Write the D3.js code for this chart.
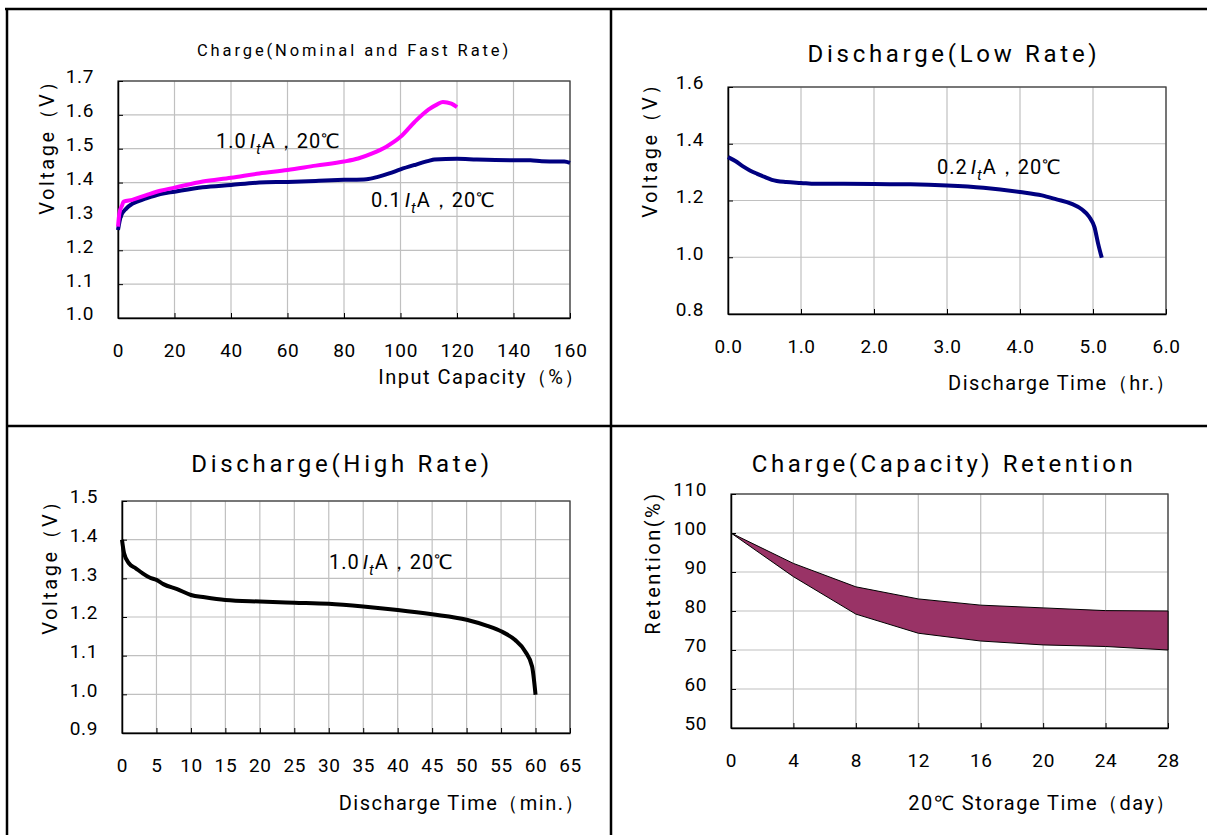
<!DOCTYPE html>
<html>
<head>
<meta charset="utf-8">
<script src="https://cdn.jsdelivr.net/npm/d3@7"></script>
<style>
  body { margin: 0; background: #fff; }
  svg text { font-family: Roboto, "Liberation Sans", sans-serif; fill: #000; }
</style>
</head>
<body>
<svg id="chart" width="1207" height="835"></svg>
<script>
// charge curves, x = input capacity (%)
const chargeFastX = [0, 0.5, 1.5, 2, 5, 10, 15, 20, 30, 40, 50, 60, 70, 80, 85, 90, 95, 100, 105, 110, 113, 115, 118, 120];
const chargeFastV = [1.27, 1.31, 1.334, 1.344, 1.349, 1.363, 1.376, 1.385, 1.403, 1.414, 1.427, 1.437, 1.45, 1.462, 1.471, 1.486, 1.506, 1.535, 1.579, 1.616, 1.631, 1.638, 1.633, 1.623];
const chargeNomX = [0, 1, 3, 5, 10, 15, 20, 30, 40, 50, 60, 70, 80, 88, 92, 96, 100, 105, 110, 112, 120, 127, 140, 146, 150, 158, 160];
const chargeNomV = [1.26, 1.30, 1.324, 1.337, 1.353, 1.366, 1.373, 1.386, 1.393, 1.40, 1.402, 1.405, 1.408, 1.41, 1.417, 1.427, 1.439, 1.452, 1.464, 1.468, 1.47, 1.468, 1.466, 1.466, 1.463, 1.462, 1.458];

// low rate discharge, x = hours
const lowRateT = [0, 0.1, 0.2, 0.3, 0.4, 0.5, 0.6, 0.8, 1.0, 1.2, 1.5, 2.0, 2.5, 3.0, 3.5, 4.0, 4.3, 4.5, 4.7, 4.85, 4.95, 5.02, 5.07, 5.12];
const lowRateV = [1.353, 1.339, 1.321, 1.306, 1.294, 1.283, 1.273, 1.265, 1.262, 1.259, 1.259, 1.258, 1.257, 1.253, 1.245, 1.23, 1.218, 1.204, 1.189, 1.168, 1.142, 1.106, 1.048, 0.998];

// high rate discharge, x = minutes
const highRateT = [0, 0.3, 1, 2, 3, 4, 5, 6, 8, 10, 12, 15, 20, 25, 30, 35, 40, 45, 50, 53, 55, 57, 58.5, 59.5, 60];
const highRateV = [1.40, 1.365, 1.339, 1.326, 1.313, 1.302, 1.296, 1.285, 1.272, 1.257, 1.251, 1.244, 1.24, 1.237, 1.234, 1.227, 1.218, 1.207, 1.193, 1.177, 1.163, 1.141, 1.111, 1.072, 0.999];

// retention band, x = storage days
const storageDays = [0, 4, 8, 12, 16, 20, 24, 28];
const retentionHigh = [100, 92.2, 86.2, 83.1, 81.5, 80.8, 80.1, 80];
const retentionLow = [100, 88.8, 79.2, 74.3, 72.3, 71.3, 70.9, 70];

const xTicks1 = d3.range(0, 161, 20), yTicks1 = d3.range(10, 18).map(d => d / 10);
const xTicks2 = d3.range(0, 7), yTicks2 = [0.8, 1.0, 1.2, 1.4, 1.6];
const xTicks3 = d3.range(0, 66, 5), yTicks3 = d3.range(9, 16).map(d => d / 10);
const xTicks4 = d3.range(0, 29, 4), yTicks4 = d3.range(50, 111, 10);

const svg = d3.select("#chart");

// panel frame lines
const frame = svg.append("g").attr("stroke", "#000").attr("stroke-width", 2.5);
frame.append("line").attr("x1", 5).attr("x2", 1207).attr("y1", 9).attr("y2", 9);
frame.append("line").attr("x1", 7).attr("x2", 7).attr("y1", 8).attr("y2", 835);
frame.append("line").attr("x1", 611).attr("x2", 611).attr("y1", 8).attr("y2", 835);
frame.append("line").attr("x1", 7).attr("x2", 1207).attr("y1", 426).attr("y2", 426);

function panel(o) {
  const x = d3.scaleLinear().domain(o.xDomain).range([o.left, o.right]);
  const y = d3.scaleLinear().domain(o.yDomain).range([o.bottom, o.top]);
  const g = svg.append("g");

  // grid
  g.append("g").selectAll("line").data(o.xTicks.slice(1)).join("line")
    .attr("x1", d => x(d)).attr("x2", d => x(d)).attr("y1", o.top).attr("y2", o.bottom)
    .attr("stroke", "#c0c0c0").attr("stroke-width", 1.2);
  g.append("g").selectAll("line").data(o.yTicks.slice(1)).join("line")
    .attr("x1", o.left).attr("x2", o.right).attr("y1", d => y(d)).attr("y2", d => y(d))
    .attr("stroke", "#c0c0c0").attr("stroke-width", 1.2);

  // frame: top/right grey, axes black
  g.append("rect").attr("x", o.left).attr("y", o.top)
    .attr("width", o.right - o.left).attr("height", o.bottom - o.top)
    .attr("fill", "none").attr("stroke", "#404040").attr("stroke-width", 1.3);

  const xAxis = g.append("g").attr("transform", `translate(0,${o.bottom})`)
    .call(d3.axisBottom(x).tickValues(o.xTicks).tickFormat(o.xFormat).tickSizeInner(-5).tickSizeOuter(0).tickPadding(26));
  const yAxis = g.append("g").attr("transform", `translate(${o.left},0)`)
    .call(d3.axisLeft(y).tickValues(o.yTicks).tickFormat(o.yFormat).tickSizeInner(-5).tickSizeOuter(0).tickPadding(24));
  [xAxis, yAxis].forEach(a => {
    a.select(".domain").attr("stroke", "#000").attr("stroke-width", 1.5);
    a.selectAll(".tick line").attr("stroke", "#000");
    a.selectAll(".tick text").attr("font-size", 19).attr("letter-spacing", 0.6);
  });
  yAxis.selectAll(".tick text").attr("dy", "0.1em");

  g.append("text").attr("x", o.titleX).attr("y", o.titleY).attr("text-anchor", "middle")
    .attr("font-size", o.titleSize).attr("letter-spacing", o.titleSpacing).text(o.title);
  g.append("text").attr("x", o.xTitleEnd).attr("y", o.xTitleY).attr("text-anchor", "end")
    .attr("font-size", 20).attr("letter-spacing", 1.5).text(o.xTitle);
  g.append("text").attr("transform", `translate(${o.yTitleX},${o.yTitleY}) rotate(-90)`)
    .attr("text-anchor", "middle").attr("font-size", 20).attr("letter-spacing", 2.5).text(o.yTitle);

  return { g, x, y };
}

function note(g, px, py, lead) {
  const t = g.append("text").attr("x", px).attr("y", py).attr("font-size", 20).attr("letter-spacing", 1);
  t.append("tspan").text(lead);
  t.append("tspan").attr("font-style", "italic").attr("dx", 3).text("I");
  t.append("tspan").attr("font-style", "italic").attr("font-size", 15).attr("dy", 6).text("t");
  t.append("tspan").attr("dy", -6).text("A，20℃");
}

const f1 = d3.format(".1f");

// top left: charge
const p1 = panel({
  left: 118, right: 570, top: 81, bottom: 318,
  xDomain: [0, 160], yDomain: [1.0, 1.7], xTicks: xTicks1, yTicks: yTicks1,
  xFormat: d3.format("d"), yFormat: f1,
  title: "Charge(Nominal and Fast Rate)", titleX: 354, titleY: 56, titleSize: 16.5, titleSpacing: 2.9,
  xTitle: "Input Capacity（%）", xTitleEnd: 586, xTitleY: 384,
  yTitle: "Voltage（V）", yTitleX: 54, yTitleY: 142
});
const line1 = d3.line().x(d => p1.x(d[0])).y(d => p1.y(d[1])).curve(d3.curveMonotoneX);
p1.g.append("path").datum(d3.zip(chargeNomX, chargeNomV)).attr("d", line1)
  .attr("fill", "none").attr("stroke", "#000080").attr("stroke-width", 4);
p1.g.append("path").datum(d3.zip(chargeFastX, chargeFastV)).attr("d", line1)
  .attr("fill", "none").attr("stroke", "#ff00ff").attr("stroke-width", 4);
note(p1.g, 216, 148, "1.0");
note(p1.g, 371, 207, "0.1");

// top right: low rate discharge
const p2 = panel({
  left: 728, right: 1166, top: 87, bottom: 314,
  xDomain: [0, 6], yDomain: [0.8, 1.6], xTicks: xTicks2, yTicks: yTicks2,
  xFormat: f1, yFormat: f1,
  title: "Discharge(Low Rate)", titleX: 954, titleY: 62, titleSize: 24, titleSpacing: 3.7,
  xTitle: "Discharge Time（hr.）", xTitleEnd: 1177, xTitleY: 390,
  yTitle: "Voltage（V）", yTitleX: 657, yTitleY: 145
});
const line2 = d3.line().x(d => p2.x(d[0])).y(d => p2.y(d[1])).curve(d3.curveMonotoneX);
p2.g.append("path").datum(d3.zip(lowRateT, lowRateV)).attr("d", line2)
  .attr("fill", "none").attr("stroke", "#000080").attr("stroke-width", 4);
note(p2.g, 937, 174, "0.2");

// bottom left: high rate discharge
const p3 = panel({
  left: 122, right: 570, top: 501, bottom: 733,
  xDomain: [0, 65], yDomain: [0.9, 1.5], xTicks: xTicks3, yTicks: yTicks3,
  xFormat: d3.format("d"), yFormat: f1,
  title: "Discharge(High Rate)", titleX: 342, titleY: 472, titleSize: 24, titleSpacing: 3.7,
  xTitle: "Discharge Time（min.）", xTitleEnd: 586, xTitleY: 810,
  yTitle: "Voltage（V）", yTitleX: 57, yTitleY: 562
});
const line3 = d3.line().x(d => p3.x(d[0])).y(d => p3.y(d[1])).curve(d3.curveMonotoneX);
p3.g.append("path").datum(d3.zip(highRateT, highRateV)).attr("d", line3)
  .attr("fill", "none").attr("stroke", "#000").attr("stroke-width", 4);
note(p3.g, 329, 569, "1.0");

// bottom right: retention band
const p4 = panel({
  left: 731, right: 1168, top: 494, bottom: 728,
  xDomain: [0, 28], yDomain: [50, 110], xTicks: xTicks4, yTicks: yTicks4,
  xFormat: d3.format("d"), yFormat: d3.format("d"),
  title: "Charge(Capacity) Retention", titleX: 944, titleY: 472, titleSize: 24, titleSpacing: 3.5,
  xTitle: "20℃ Storage Time（day）", xTitleEnd: 1177, xTitleY: 810,
  yTitle: "Retention(%)", yTitleX: 660, yTitleY: 563
});
const band = d3.area().x(d => p4.x(d[0])).y0(d => p4.y(d[2])).y1(d => p4.y(d[1]));
p4.g.append("path").datum(d3.zip(storageDays, retentionHigh, retentionLow)).attr("d", band)
  .attr("fill", "#993366").attr("stroke", "#000").attr("stroke-width", 1);
</script>
</body>
</html>
